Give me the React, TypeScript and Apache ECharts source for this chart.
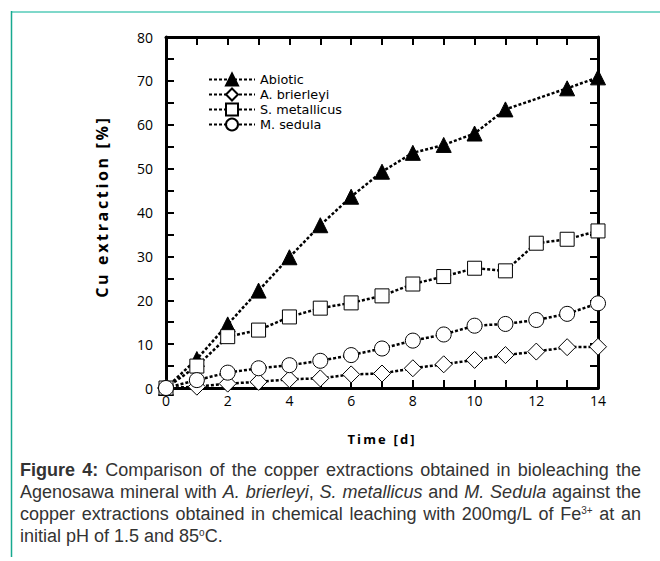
import React, { useEffect, useRef } from "react";
import * as echarts from "echarts";

const days = [0, 1, 2, 3, 4, 5, 6, 7, 8, 9, 10, 11, 12, 13, 14];
const abioticDays = [0, 1, 2, 3, 4, 5, 6, 7, 8, 9, 10, 11, 13, 14];
const abiotic = [0, 6.6, 14.5, 22.2, 29.8, 37.1, 43.6, 49.3, 53.6, 55.4, 58.0, 63.5, 68.3, 70.8];
const brierleyi = [0, 0.3, 1.0, 1.4, 2.0, 2.2, 3.1, 3.3, 4.5, 5.4, 6.4, 7.5, 8.3, 9.3, 9.4];
const metallicus = [0, 5.0, 11.7, 13.2, 16.2, 18.2, 19.4, 21.0, 23.7, 25.4, 27.3, 26.7, 33.0, 33.9, 35.8];
const sedula = [0, 1.8, 3.5, 4.5, 5.2, 6.2, 7.5, 9.0, 10.8, 12.2, 14.2, 14.6, 15.5, 16.9, 19.3];
const seriesNames = ["Abiotic", "A. brierleyi", "S. metallicus", "M. sedula"];
const yTicks = [0, 10, 20, 30, 40, 50, 60, 70, 80];
const xTicks = [0, 2, 4, 6, 8, 10, 12, 14];

// caption segments: [style, text]; style n=normal, b=bold, i=italic, s=superscript
const captionLines: [string, string][][] = [
  [["b", "Figure 4:"], ["n", " Comparison of the copper extractions obtained in bioleaching the"]],
  [["n", "Agenosawa mineral with "], ["i", "A. brierleyi"], ["n", ", "], ["i", "S. metallicus"], ["n", " and "], ["i", "M. Sedula"], ["n", " against the"]],
  [["n", "copper extractions obtained in chemical leaching with 200mg/L of Fe"], ["s", "3+"], ["n", " at an"]],
  [["n", "initial pH of 1.5 and 85"], ["s", "o"], ["n", "C."]],
];

const spaced = (s: string) => s.split("").join("\u2009");

const CAP_FONT = "Liberation Sans";
const CAP_SIZE = 18;
const SUP_SIZE = 10;
const CAP_LH = 22;
const CAP_WIDTH = 621;

function fontFor(st: string) {
  if (st === "b") return `bold ${CAP_SIZE}px "${CAP_FONT}"`;
  if (st === "i") return `italic ${CAP_SIZE}px "${CAP_FONT}"`;
  if (st === "s") return `${SUP_SIZE}px "${CAP_FONT}"`;
  return `${CAP_SIZE}px "${CAP_FONT}"`;
}

function buildCaption() {
  const ctx = document.createElement("canvas").getContext("2d")!;
  const rich: Record<string, any> = {
    b: { fontFamily: CAP_FONT, fontSize: CAP_SIZE, fontWeight: "bold", fill: "#333", lineHeight: CAP_LH },
    n: { fontFamily: CAP_FONT, fontSize: CAP_SIZE, fill: "#333", lineHeight: CAP_LH },
    i: { fontFamily: CAP_FONT, fontSize: CAP_SIZE, fontStyle: "italic", fill: "#333", lineHeight: CAP_LH },
    s: { fontFamily: CAP_FONT, fontSize: SUP_SIZE, fill: "#333", lineHeight: 11, verticalAlign: "top", padding: [2, 0, 0, 0] },
  };
  const out: string[] = [];
  captionLines.forEach((line, li) => {
    const justify = li < captionLines.length - 1;
    let contentW = 0;
    let nSpaces = 0;
    line.forEach(([st, t]) => {
      ctx.font = fontFor(st);
      const parts = t.split(" ");
      parts.forEach((p) => {
        if (p) contentW += ctx.measureText(p).width;
      });
      nSpaces += parts.length - 1;
    });
    ctx.font = fontFor("n");
    const spaceW = ctx.measureText(" ").width;
    let gap = justify && nSpaces > 0 ? (CAP_WIDTH - contentW) / nSpaces : spaceW;
    if (gap < spaceW * 0.6) gap = spaceW * 0.6;
    const gKey = "g" + li;
    rich[gKey] = { width: gap, fontFamily: CAP_FONT, fontSize: CAP_SIZE, lineHeight: CAP_LH };
    let s = "";
    line.forEach(([st, t]) => {
      const parts = t.split(" ");
      parts.forEach((p, k) => {
        if (k > 0) s += `{${gKey}| }`;
        if (p) s += `{${st}|${p}}`;
      });
    });
    out.push(s);
  });
  return { text: out.join("\n"), rich };
}

export default function App() {
  const ref = useRef<HTMLDivElement>(null);
  useEffect(() => {
    if (!ref.current) return;
    const chart = echarts.init(ref.current, null, { renderer: "svg" });
    const plotFont = "Open Sans";
    const lineStyle = { color: "#000", width: 2.5, type: [3, 2] as number[] };
    const mk = (name: string, xs: number[], ys: number[], symbol: string, size: number, fill: string) => ({
      name,
      type: "line",
      data: xs.map((x, i) => [x, ys[i]]),
      symbol,
      symbolSize: size,
      showAllSymbol: true,
      clip: false,
      lineStyle,
      itemStyle: { color: fill, borderColor: "#000", borderWidth: 1 },
      emphasis: { disabled: true },
    });
    const axisCommon = {
      type: "value",
      axisLine: { show: true, onZero: false, lineStyle: { color: "#000", width: 3 } },
      axisTick: { show: true, inside: true, length: 8, lineStyle: { color: "#000", width: 2 } },
      splitLine: { show: false },
    };
    const cap = buildCaption();
    chart.setOption({
      animation: false,
      backgroundColor: "#fff",
      grid: { left: 166, top: 37, right: 62, bottom: 173, containLabel: false },
      legend: {
        orient: "vertical",
        left: 208,
        top: 72,
        itemWidth: 46,
        itemHeight: 15,
        itemGap: 0,
        padding: 0,
        data: seriesNames,
        textStyle: { fontFamily: "DejaVu Sans", fontSize: 12.8, lineHeight: 15, color: "#000" },
      },
      xAxis: [
        {
          ...axisCommon,
          position: "bottom",
          min: 0,
          max: 14,
          interval: 1,
          axisLabel: {
            fontFamily: plotFont,
            fontSize: 14,
            color: "#000",
            margin: 5,
            formatter: (v: number) => (xTicks.includes(v) ? String(v) : ""),
          },
        },
        {
          ...axisCommon,
          position: "top",
          min: 0,
          max: 14,
          interval: 1,
          axisLabel: { show: false },
        },
      ],
      yAxis: [
        {
          ...axisCommon,
          position: "left",
          min: 0,
          max: 80,
          interval: 5,
          axisLabel: {
            fontFamily: plotFont,
            fontSize: 14,
            color: "#000",
            margin: 13,
            formatter: (v: number) => (yTicks.includes(v) ? String(v) : ""),
          },
        },
        {
          ...axisCommon,
          position: "right",
          min: 0,
          max: 80,
          interval: 5,
          axisLabel: { show: false },
        },
      ],
      series: [
        mk(seriesNames[0], abioticDays, abiotic, "triangle", 15, "#000"),
        mk(seriesNames[1], days, brierleyi, "diamond", 17, "#fff"),
        mk(seriesNames[2], days, metallicus, "rect", 14, "#fff"),
        mk(seriesNames[3], days, sedula, "circle", 15, "#fff"),
      ],
      graphic: [
        { type: "line", shape: { x1: 11, y1: 12, x2: 660, y2: 12 }, style: { stroke: "#7fd8ca", lineWidth: 2 } },
        { type: "line", shape: { x1: 11.5, y1: 11, x2: 11.5, y2: 557 }, style: { stroke: "#17a98f", lineWidth: 1.5 } },
        {
          type: "text",
          x: 102,
          y: 208,
          rotation: Math.PI / 2,
          style: {
            text: spaced("Cu extraction [%]"),
            fontFamily: plotFont,
            fontWeight: "bold",
            fontSize: 16,
            fill: "#000",
            align: "center",
            verticalAlign: "middle",
          },
        },
        {
          type: "text",
          x: 381,
          y: 439,
          style: {
            text: spaced("Time [d]"),
            fontFamily: plotFont,
            fontWeight: "bold",
            fontSize: 13,
            fill: "#000",
            align: "center",
            verticalAlign: "middle",
          },
        },
        {
          type: "text",
          x: 20,
          y: 459,
          style: {
            text: cap.text,
            align: "left",
            verticalAlign: "top",
            fill: "#333",
            fontFamily: CAP_FONT,
            fontSize: CAP_SIZE,
            lineHeight: CAP_LH,
            rich: cap.rich,
          },
        },
      ],
    });
    return () => chart.dispose();
  }, []);
  return <div ref={ref} style={{ position: "absolute", left: 0, top: 0, width: 660, height: 561 }} />;
}
